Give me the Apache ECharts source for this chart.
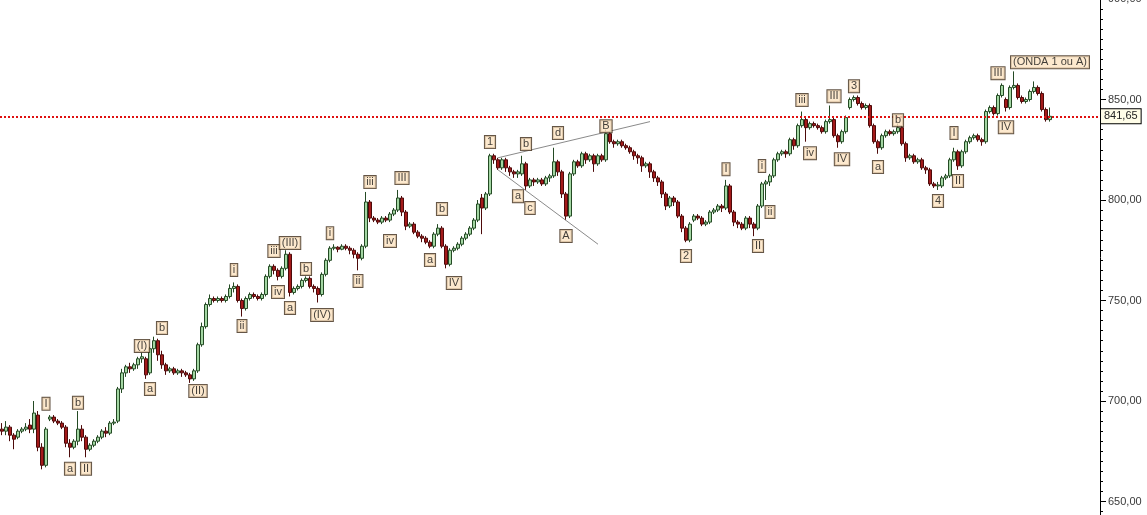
<!DOCTYPE html>
<html>
<head>
<meta charset="utf-8">
<script src="https://cdn.jsdelivr.net/npm/echarts@6/dist/echarts.min.js"></script>
<style>
html,body{margin:0;padding:0;background:#fff;}
#chart{width:1147px;height:515px;}
</style>
</head>
<body>
<div id="chart"></div>
<script>
// number of category slots on the x axis (candles + empty space on the right)
const slotCount = 275;
const categories = [];
for (let i = 0; i < slotCount; i++) categories.push(String(i + 1));

// candles: [open, close, low, high]
const candles = [
[686,685,683,689],[685,687,683,690],[687,683,680,688],[683,681,676,684],[682,685,681,686],
[685,686,684,687],[686,687,685,689],[688,686,684,691],[686,694,684,700],[693,677,675,695],
[677,668,666,679],[668,686,667,687],[691,692,690,693],[692,690,689,693],[690,689,688,691],
[689,687,686,690],[687,679,677,688],[679,677,672,681],[677,680,676,681],[680,686,678,695],
[686,682,680,688],[682,676,672,683],[676,678,675,679],[678,680,677,681],[680,682,679,683],
[682,685,681,686],[685,684,682,687],[684,689,683,690],[689,689.5,688,691],[690,706,689,707],
[706,714,704,716],[714,717,712,718],[717,716,714,719],[716,718,715,719],[718,721,716,722],
[721,722,719,724],[721,713,711,722],[714,726,713,727],[726,730,724,732],[730,723,720,731],
[723,718,716,725],[718,715,713,719],[715,716,714,717],[716,714,713,717],[714,715,713,716],
[715,714,712,716],[714,713,712,715],[713,711,709,714],[711,715,710,716],[715,728,714,729],
[728,737,727,739],[737,748,736,749],[748,751,747,753],[751,750,749,752],[750,751,749,752],
[751,750,749,752],[750,752,749,753],[752,756,751,758],[756,757,754,759],[757,750,749,758],
[750,746,742,751],[746,751,745,752],[751,753,750,754],[753,752,751,754],[752,751,750,753],
[751,753,750,754],[753,762,752,763],[762,767,761,768],[767,765,763,768],[765,762,760,766],
[762,766,761,767],[766,773,765,775],[773,754,752,774],[754,756,753,757],[756,757,755,758],
[757,760,756,761],[760,761,759,762],[761,757,756,762],[757,756,754,758],[756,753,749,757],
[753,763,752,764],[763,770,762,771],[770,776,769,777],[776,776.5,775,778],[776.5,775.5,774,777],
[775.5,777,775,778],[777,776,775,778],[776,775,773,777],[775,773,771,776],[773,771,765,774],
[771,777,770,778],[777,799,776,804],[799,791,789,800],[791,790,789,792],[790,789,788,791],
[789,791,788,792],[791,790,789,792],[790,793,789,794],[793,795,792,796],[795,801,794,805],
[801,794,792,802],[794,787,785,795],[787,788,786,789],[788,784,783,789],[784,782,781,785],
[782,781,779,783],[781,779,778,782],[779,777,776,780],[777,783,776,784],[783,786,782,788],
[786,777,776,787],[777,768,766,778],[768,775,767,776],[775,776,774,777],[776,778,775,779],
[778,781,777,782],[781,783,780,784],[783,786,782,787],[786,790,785,791],[790,798,789,800],
[801,796,783,803],[796,803,795,804],[803,822,802,823],[822,820,818,823],[820,816,815,821],
[816,820,815,821],[820,816,814,821],[816,814,812,817],[814,813,811,815],[813,814,811,815],
[813,818,812,822],[818,807,805,819],[807,810,806,811],[810,809,807,811],[809,810,808,811],
[810,808,807,811],[808,811,807,812],[811,812,809,813],[812,819,811,826],[819,814,812,820],
[814,803,801,815],[803,792,790,804],[792,813,791,814],[813,819,812,820],[819,817,816,820],
[817,823,816,824],[823,820,818,824],[820,822,819,823],[822,818,814,823],[818,822,817,823],
[822,820,819,823],[820,833,819,835],[833,829,828,834],[829,828,826,830],[828,829,827,830],
[829,827,826,830],[827,826,825,828],[826,824,823,827],[824,822,820,825],[822,821,818,823],
[821,817,814,822],[817,818,816,819],[818,814,811,819],[814,811,809,815],[811,809,807,812],
[809,803,801,810],[803,797,795,804],[797,801,796,802],[801,799,797,802],[799,792,791,800],
[792,786,784,793],[786,780,779,787],[780,788,779,789],[790,792,789,793],[792,791,790,793],
[791,788,787,792],[788,789,787,790],[789,794,788,795],[794,795,793,796],[795,797,794,798],
[797,796,794,798],[796,807,795,810],[807,794,793,808],[794,789,787,795],[789,788,786,790],
[788,786,785,789],[786,791,785,792],[791,788,786,792],[788,786,782,789],[786,797,785,798],
[797,808,796,809],[808,809,800,810],[809,812,807,813],[812,820,811,821],[820,823,819,824],
[823,824,822,825],[824,823,821,825],[823,830,822,831],[830,827,825,831],[827,837,826,838],
[837,840,836,844],[840,836,829,841],[836,838,835,839],[838,837,836,839],[837,836,835,838],
[836,834,833,837],[834,839,833,840],[839,840,838,847],[840,832,831,841],[832,829,826,833],
[829,834,828,835],[834,841,833,842],[846,850,845,851],[850,851,849,852],[851,848,847,852],
[848,846,845,849],[846,847,845,848],[847,837,836,848],[837,829,828,838],[829,826,823,830],
[826,832,825,833],[832,834,831,835],[834,833,832,835],[833,834,832,835],[834,836,833,838],
[836,828,827,837],[828,821,819,829],[821,822,820,823],[822,819,818,823],[819,820,818,821],
[820,816,815,821],[816,815,813,817],[815,808,807,816],[808,807,806,809],[807,807.5,805,809],
[807,811,806,812],[811,812,810,813],[812,820,811,821],[820,824,819,826],[824,817,815,825],
[817,824,816,825],[824,829,823,830],[829,831,828,832],[831,832,830,833],[832,830,829,833],
[830,829,827,831],[829,844,828,845],[844,846,843,847],[846,843,842,847],[843,852,842,853],
[852,857,851,858],[850,846,844,851],[846,856,845,857],[856,857,855,864],[857,851,850,858],
[851,849,848,852],[849,850,848,851],[850,854,849,855],[854,856,853,859],[856,853,852,857],
[853,845,844,854],[845,840,839,846],[840,841.65,839,846]
];

// last price (dotted reference line)
const lastPrice = 841.65;

// wave annotations: [candle index, price, text]
const waveLabels = [
[11,698.6,'I'],[19,699.1,'b'],[17,666.3,'a'],[21,666.3,'II'],
[35,727.4,'(I)'],[40,736.3,'b'],[37,706.0,'a'],[49,705.0,'(II)'],
[58,765.2,'i'],[60,737.3,'ii'],[68,774.6,'iii'],[72,778.6,'(III)'],
[69,754.2,'iv'],[72,746.3,'a'],[76,765.7,'b'],[80,742.8,'(IV)'],
[82,783.5,'i'],[89,759.7,'ii'],[92,808.9,'iii'],[100,810.9,'III'],
[97,779.6,'iv'],[107,770.1,'a'],[110,795.5,'b'],[113,758.7,'IV'],
[122,828.8,'1'],[131,827.8,'b'],[129,801.9,'a'],[132,796.0,'c'],
[139,833.3,'d'],[141,782.1,'A'],[151,836.7,'B'],[171,772.1,'2'],
[181,815.3,'I'],[189,777.1,'II'],[190,816.9,'i'],[192,794.0,'ii'],
[200,849.7,'iii'],[202,823.3,'iv'],[208,851.6,'III'],[210,820.3,'IV'],
[213,856.6,'3'],[219,816.4,'a'],[224,839.7,'b'],[234,799.5,'4'],
[238,833.3,'I'],[239,809.4,'II'],[249,863.1,'III'],[251,836.2,'IV'],
[262,868.5,'(ONDA 1 ou A)']
];

// triangle trend lines: [[startIndex, startPrice], [endIndex, endPrice]]
const trendLines = [
[[124,821],[162,839]],
[[124,815],[149,778]]
];

const fmt = v => v.toFixed(2).replace('.', ',');

const chart = echarts.init(document.getElementById('chart'));
chart.setOption({
  animation: false,
  backgroundColor: '#ffffff',
  textStyle: { fontFamily: 'Liberation Sans, Arial, sans-serif' },
  grid: { left: 0, right: 47, top: -1, bottom: -87, containLabel: false, outerBoundsMode: 'none' },
  xAxis: {
    type: 'category',
    data: categories,
    show: false,
    boundaryGap: true
  },
  yAxis: {
    type: 'value',
    position: 'right',
    min: 600,
    max: 900,
    interval: 50,
    axisLine: { show: true, lineStyle: { color: '#000', width: 1 } },
    axisTick: { show: true, length: 6, lineStyle: { color: '#000' } },
    minorTick: { show: true, splitNumber: 10, length: 3, lineStyle: { color: '#000' } },
    splitLine: { show: false },
    axisLabel: {
      formatter: fmt, color: '#3a3a3a', fontSize: 11, margin: 8,
      showMinLabel: true, showMaxLabel: true
    }
  },
  series: [
    {
      type: 'candlestick',
      data: candles,
      barWidth: 3,
      itemStyle: {
        color: '#a3d6a3', color0: '#a31a1a',
        borderColor: '#244a24', borderColor0: '#4d0a0a', borderWidth: 1
      },
      markLine: {
        silent: true,
        symbol: ['none', 'none'],
        animation: false,
        data: [
          {
            yAxis: lastPrice,
            lineStyle: { color: '#e01010', type: [2, 2], width: 2 },
            label: {
              show: true, position: 'end', formatter: fmt(lastPrice),
              backgroundColor: '#fffde8', borderColor: '#000', borderWidth: 1,
              padding: [2, 3, 1, 3], color: '#222', fontSize: 11, distance: 1
            }
          }
        ].concat(trendLines.map(t => [
          { coord: t[0], lineStyle: { color: '#8a8a8a', type: 'solid', width: 1 }, label: { show: false } },
          { coord: t[1] }
        ]))
      }
    },
    {
      type: 'scatter',
      symbolSize: 1,
      itemStyle: { color: 'rgba(0,0,0,0)' },
      z: 5,
      data: waveLabels.map(w => ({ value: [w[0], w[1]], name: w[2] })),
      label: {
        show: true, position: 'inside', formatter: '{b}',
        backgroundColor: '#fde3c2', borderColor: '#3d2a18', borderWidth: 1,
        padding: [1, 2, 0, 2], color: '#111', fontSize: 11
      },
      labelLayout: { hideOverlap: false }
    }
  ]
});
</script>
</body>
</html>
